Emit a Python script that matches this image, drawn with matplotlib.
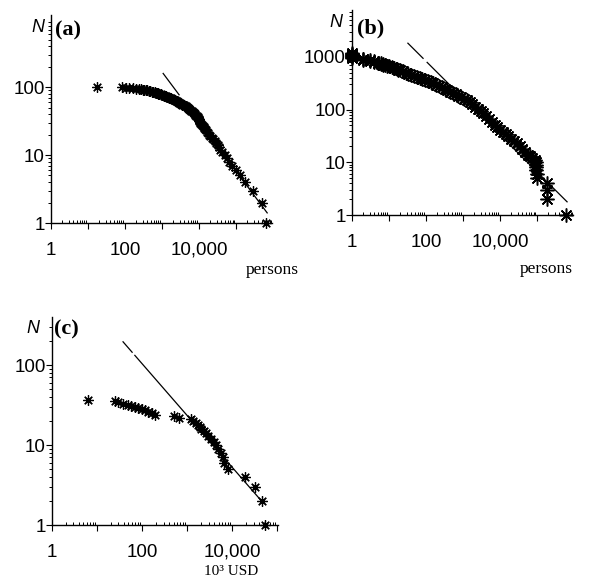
import matplotlib
matplotlib.use("Agg")
import matplotlib.pyplot as plt
from matplotlib.ticker import FixedLocator, FuncFormatter, LogLocator, NullFormatter
import numpy as np

# ---------------- data ----------------
# Panel (a): rank N vs size (persons)
ranks_a = [1, 2, 3, 4, 5, 6, 7, 8, 9, 10,
           11, 12, 13, 14, 15, 16, 17, 18, 19, 20,
           21, 22, 23, 24, 25, 26, 27, 28, 29, 30,
           31, 32, 33, 34, 35, 36, 37, 38, 39, 40,
           41, 42, 43, 44, 45, 46, 47, 48, 49, 50,
           51, 52, 53, 54, 55, 56, 57, 58, 59, 60,
           61, 62, 63, 64, 65, 66, 67, 68, 69, 70,
           71, 72, 73, 74, 75, 76, 77, 78, 79, 80,
           81, 82, 83, 84, 85, 86, 87, 88, 89, 90,
           91, 92, 93, 94, 95, 96, 97, 98, 99, 100]
sizes_a = [631000, 501000, 295000, 174000, 129000, 100000, 79400, 66100, 56200, 50100,
           41700, 37200, 33900, 31600, 28800, 26300, 24500, 22400, 20000, 18600,
           17400, 16200, 15500, 14800, 13800, 13200, 12600, 12000, 11200, 10700,
           10500, 10200, 10000, 9800, 9300, 9100, 8700, 8300, 7900, 7600,
           7400, 7100, 6800, 6300, 6000, 5750, 5500, 5250, 5000, 4900,
           4700, 4350, 4100, 3800, 3550, 3300, 3150, 3000, 2900, 2750,
           2650, 2500, 2350, 2200, 2050, 1900, 1800, 1700, 1600, 1500,
           1400, 1350, 1250, 1180, 1100, 1020, 980, 910, 850, 800,
           760, 720, 690, 630, 575, 525, 480, 435, 400, 365,
           330, 300, 270, 240, 200, 165, 130, 105, 83, 17]

# Panel (b): rank N vs size (persons)
sizes_b = [1, 1, 1, 1, 1, 1,
           2, 2, 2, 3, 3, 4, 4, 5, 5, 6, 6, 7, 7, 8, 9, 10,
           12, 14, 16, 18, 20, 24, 28, 33, 40, 47, 56, 67, 80, 94,
           112, 133, 158, 188, 224, 266, 316, 376, 447, 531, 631, 750, 891,
           1060, 1260, 1500, 1780, 2110, 2510, 2990, 3550, 4220, 5010, 5960,
           7080, 8410, 10000, 11900, 14100, 16800, 20000, 23700, 28200,
           33500, 39800, 47300, 56200, 64600, 70800,
           89000, 91000, 93000, 95000, 96000, 98000, 100000,
           182000, 182000, 182000, 603000]
ranks_b = [1200, 1150, 1100, 1050, 1000, 960,
           930, 905, 880, 860, 840, 820, 800, 780, 765, 750, 735, 720, 708, 695, 680, 665,
           630, 610, 592, 575, 555, 530, 505, 480, 458, 437, 417, 398, 380, 363,
           347, 331, 316, 297, 280, 263, 247, 233, 219, 206, 194, 182, 171,
           161, 151, 137, 125, 114, 103, 94, 85, 75, 67, 59,
           52, 46, 41, 37, 34, 31, 28, 25, 23,
           20, 18, 16, 14, 13, 12,
           11, 10, 9, 8, 7, 6, 5,
           4, 3, 2, 1]

# Panel (c): rank N vs size (10^3 USD)
ranks_c = [36, 35, 34, 33, 32, 31, 30, 29, 28, 27, 26, 25, 24, 23, 22, 21, 20, 19,
           18, 17, 16, 15, 14, 13, 12, 11, 10, 9, 8, 7, 6, 5, 4, 3, 2, 1]
sizes_c = [6.4, 25, 30, 38, 48, 58, 69, 83, 98, 115, 138, 166, 195, 500, 660, 1230, 1380, 1550,
           1740, 1900, 2090, 2340, 2630, 2950, 3470, 3890, 4370, 4900, 5620, 6310, 6760, 8320,
           19500, 32400, 45700, 53700]

# Power-law fits: log10 N = intercept + slope * log10 x, drawn over log10 x ranges
fit_a = {"intercept": 4.412, "slope": -0.73, "dash": (3.03, 3.46), "rest": (3.60, 5.84)}
fit_b = {"intercept": 4.317, "slope": -0.70, "dash": (1.51, 1.92), "rest": (2.03, 5.81)}
fit_c = {"intercept": 3.311, "slope": -0.647, "dash": (1.578, 1.78), "rest": (1.84, 4.69)}

x_tick_labels = {1: "1", 100: "100", 10000: "10,000"}
y_tick_labels = {1: "1", 10: "10", 100: "100", 1000: "1000"}

# ---------------- figure ----------------
W, H = 593, 578
fig = plt.figure(figsize=(W / 100, H / 100), dpi=100)

SANS = "Liberation Sans"
SERIF = "Liberation Serif"


def box(l, t, r, b):
    return [l / W, 1 - b / H, (r - l) / W, (b - t) / H]


def fx(px):
    return px / W


def fy(py):
    return 1 - py / H


def setup(ax, xmax_log, ymax_log, n_xdec, n_ydec):
    ax.set_xscale("log")
    ax.set_yscale("log")
    ax.set_xlim(1, 10 ** xmax_log)
    ax.set_ylim(1, 10 ** ymax_log)
    for s in ("top", "right"):
        ax.spines[s].set_visible(False)
    for s in ("left", "bottom"):
        ax.spines[s].set_linewidth(1.0)
    ax.xaxis.set_major_locator(FixedLocator([10 ** k for k in range(n_xdec + 1)]))
    ax.yaxis.set_major_locator(FixedLocator([10 ** k for k in range(n_ydec + 1)]))
    ax.xaxis.set_minor_locator(LogLocator(base=10, subs=np.arange(2, 10), numticks=20))
    ax.yaxis.set_minor_locator(LogLocator(base=10, subs=np.arange(2, 10), numticks=20))
    ax.xaxis.set_major_formatter(FuncFormatter(lambda v, p: x_tick_labels.get(int(round(v)), "")))
    ax.yaxis.set_major_formatter(FuncFormatter(lambda v, p: y_tick_labels.get(int(round(v)), "")))
    ax.xaxis.set_minor_formatter(NullFormatter())
    ax.yaxis.set_minor_formatter(NullFormatter())
    ax.tick_params(axis="y", which="major", direction="out", length=4, width=0.8, pad=0.5,
                   labelsize=13.5)
    ax.tick_params(axis="y", which="minor", direction="out", length=2.3, width=0.7)
    ax.tick_params(axis="x", which="major", direction="out", length=4.5, width=0.8, pad=9,
                   labelsize=13.5)
    ax.tick_params(axis="x", which="minor", direction="in", length=2.5, width=0.7)
    for lab in ax.get_xticklabels() + ax.get_yticklabels():
        lab.set_fontfamily(SANS)
    ax.patch.set_alpha(0)


def draw(ax, sizes, ranks, fit, ms, mew):
    for key in ("dash", "rest"):
        lo, hi = fit[key]
        lx = np.array([lo, hi])
        ly = fit["intercept"] + fit["slope"] * lx
        ax.plot(10 ** lx, 10 ** ly, color="black", lw=0.9, zorder=1, clip_on=False)
    ax.plot(sizes, ranks, linestyle="none", marker=(8, 2, 0), ms=ms, mew=mew,
            color="black", mec="black", zorder=3, clip_on=False)


ax_a = fig.add_axes(box(51, 15, 272, 223))
setup(ax_a, 5.97, 3.06, 5, 2)
draw(ax_a, sizes_a, ranks_a, fit_a, 7.5, 0.9)

ax_b = fig.add_axes(box(352, 10, 573, 215))
setup(ax_b, 5.97, 3.89, 5, 3)
draw(ax_b, sizes_b, ranks_b, fit_b, 10, 1.1)

ax_c = fig.add_axes(box(52, 317, 278, 525))
setup(ax_c, 5.02, 2.6, 5, 2)
draw(ax_c, sizes_c, ranks_c, fit_c, 7.5, 0.9)

# axis titles / panel letters
for (nx, ny) in [(44, 32), (342, 27), (39, 333)]:
    fig.text(fx(nx), fy(ny), "N", ha="right", va="baseline", fontsize=13,
             fontstyle="italic", family=SANS)
for (lx, ly, t) in [(55, 35, "(a)"), (357, 33, "(b)"), (54, 334, "(c)")]:
    fig.text(fx(lx), fy(ly), t, ha="left", va="baseline", fontsize=16,
             fontweight="bold", family=SERIF)

fig.text(fx(246), fy(274), "persons", ha="left", va="baseline", fontsize=12.5, family=SERIF)
fig.text(fx(520), fy(273), "persons", ha="left", va="baseline", fontsize=12.5, family=SERIF)
fig.text(fx(204), fy(575), "10³ USD", ha="left", va="baseline", fontsize=11, family=SERIF)

fig.savefig("out.png", dpi=100)
